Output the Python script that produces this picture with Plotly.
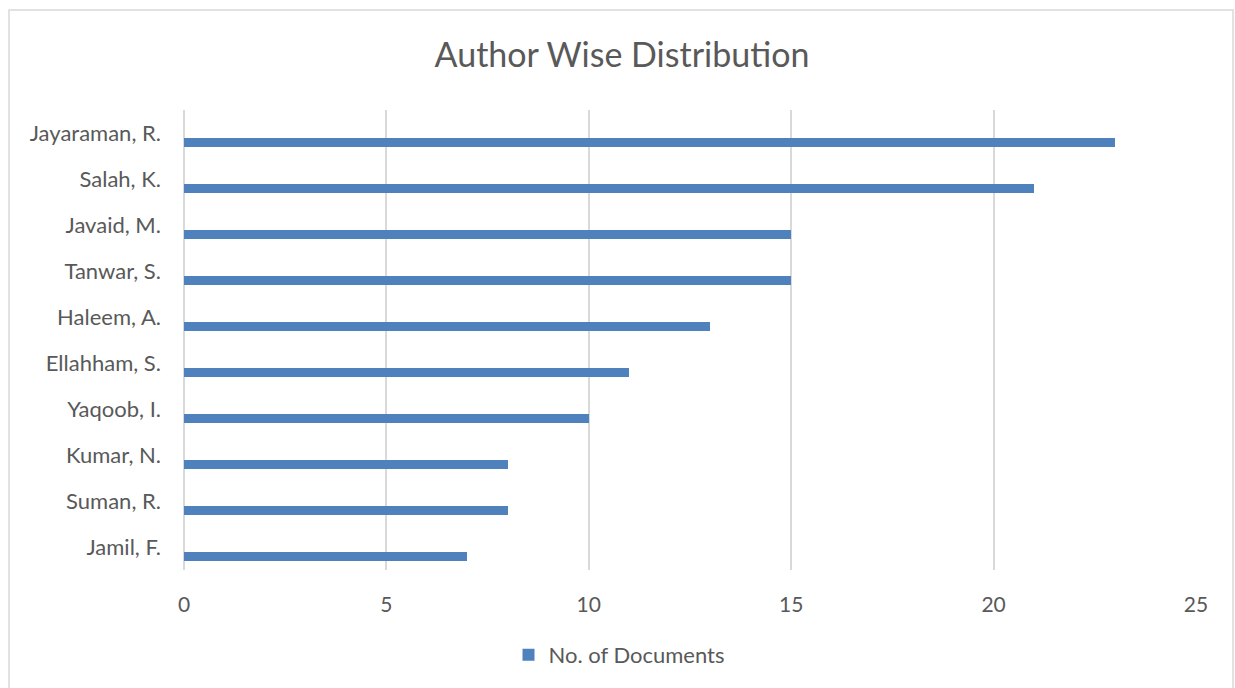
import plotly.graph_objects as go

authors = ["Jayaraman, R.", "Salah, K.", "Javaid, M.", "Tanwar, S.", "Haleem, A.",
           "Ellahham, S.", "Yaqoob, I.", "Kumar, N.", "Suman, R.", "Jamil, F."]
documents = [23, 21, 15, 15, 13, 11, 10, 8, 8, 7]
x_ticks = [0, 5, 10, 15, 20, 25]

font_family = "Lato, Open Sans, sans-serif"
grey_text = "#595959"

fig = go.Figure()
fig.add_trace(go.Bar(
    y=authors, x=documents, orientation="h",
    name="No. of Documents",
    marker=dict(color="#4f81bd", line=dict(width=0)),
    width=0.205, offset=0.11,
))

W, H = 1235, 688
L, R, T, B = 184, 39, 110, 118
pw, ph = W - L - R, H - T - B

def px_x(p):
    return (p - L) / pw

def px_y(p):
    return (H - B - p) / ph

fig.add_shape(type="rect", xref="paper", yref="paper",
              x0=px_x(9), x1=px_x(1233), y0=px_y(700), y1=px_y(10),
              line=dict(color="#d9d9d9", width=1.5), fillcolor="rgba(0,0,0,0)", layer="below")

fig.update_layout(
    width=W, height=H,
    margin=dict(l=L, r=R, t=T, b=B),
    paper_bgcolor="white", plot_bgcolor="white",
    title=dict(text="Author Wise Distribution", x=622 / W, xref="container", xanchor="center",
               y=1 - 55 / H, yref="container", yanchor="middle",
               font=dict(family=font_family, size=34, color=grey_text)),
    font=dict(family=font_family, color=grey_text),
    showlegend=True,
    legend=dict(orientation="h", x=px_x(619), xanchor="center", y=px_y(655), yanchor="middle",
                font=dict(size=22, color=grey_text), itemwidth=30),
    bargap=0,
)
fig.update_xaxes(range=[0, 25], tickvals=x_ticks, showgrid=True, gridcolor="#d9d9d9",
                 gridwidth=2, zeroline=True, zerolinecolor="#d9d9d9", zerolinewidth=2,
                 showline=False, ticks="", ticklabelstandoff=20,
                 tickfont=dict(size=21, color=grey_text))
fig.update_yaxes(categoryorder="array", categoryarray=authors, autorange="reversed",
                 showgrid=False, showline=False, ticks="", ticklabelstandoff=22,
                 tickfont=dict(size=22, color=grey_text))

fig.write_html("out.html")
